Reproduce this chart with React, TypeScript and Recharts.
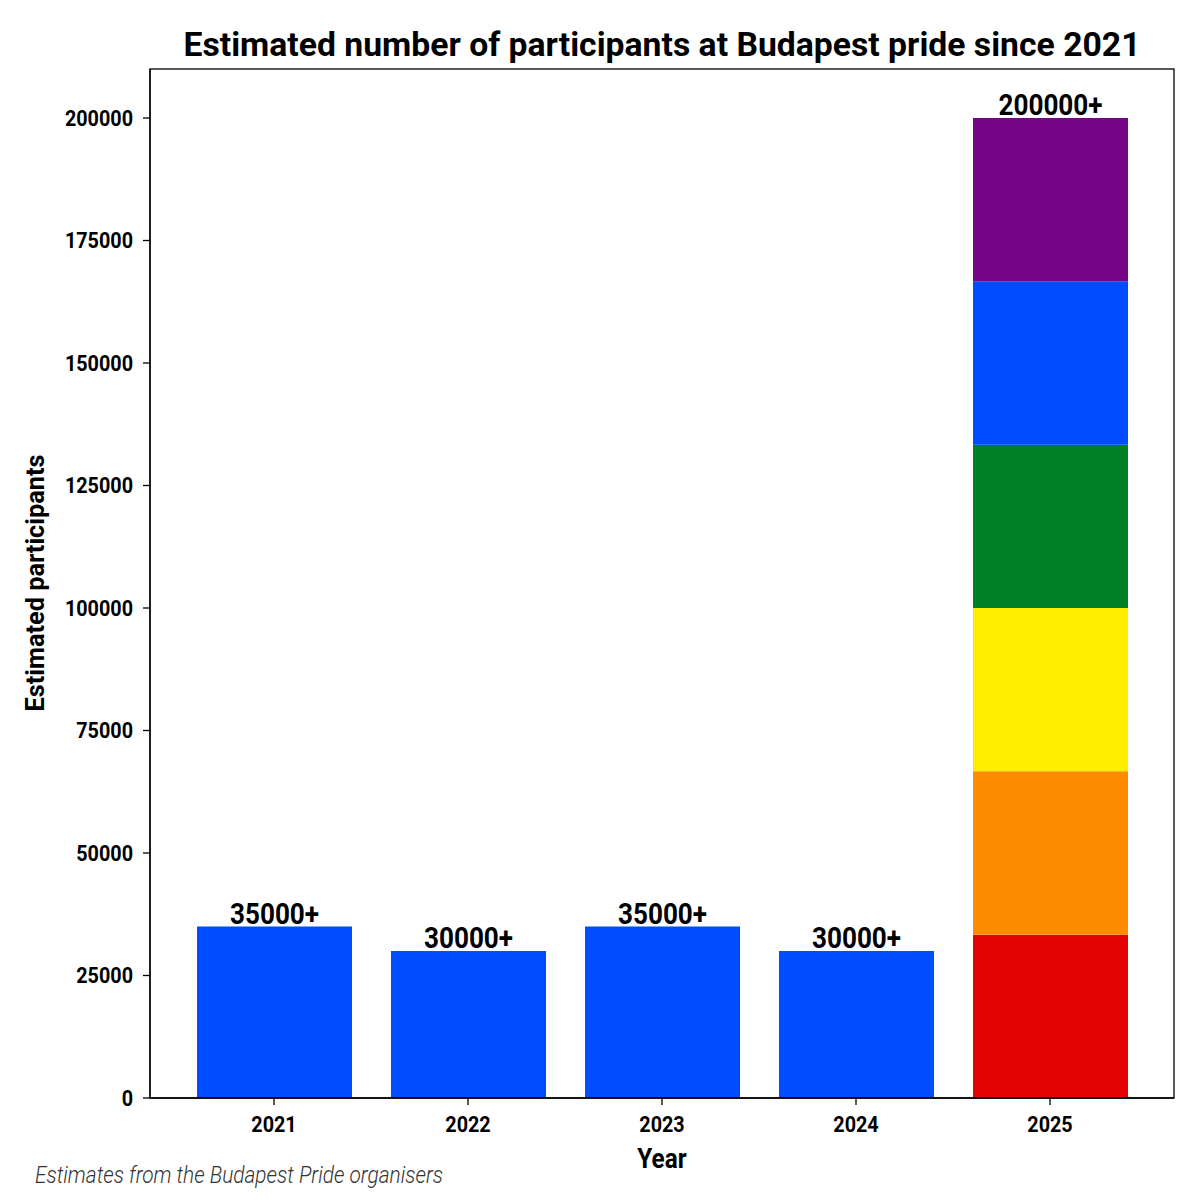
import { Bar, BarChart, LabelList, XAxis, YAxis } from "recharts"

const years = ["2021", "2022", "2023", "2024", "2025"]
const participants = [35000, 30000, 35000, 30000, 200000]
const barLabels = ["35000+", "30000+", "35000+", "30000+", "200000+"]
const yTicks = [0, 25000, 50000, 75000, 100000, 125000, 150000, 175000, 200000]

// the 2025 bar is drawn as six equal bands of the pride flag
const prideColors = ["#e40303", "#ff8c00", "#ffed00", "#008026", "#004dff", "#750787"]
const prideBands = [33333, 33333, 33334, 33333, 33333, 33334]

const BASE_BLUE = "#004dff"
const FONT = "Roboto, 'DejaVu Sans', sans-serif"
const SQUEEZE = 0.9

const data = years.map((year, i) => {
  const row: Record<string, number | string | null> = {
    year,
    label: barLabels[i],
    single: i < years.length - 1 ? participants[i] : null,
  }
  prideBands.forEach((v, k) => {
    row[`band${k}`] = i === years.length - 1 ? v : null
  })
  return row
})

const CondText = ({
  x,
  y,
  children,
  size,
  anchor = "middle",
  dy = "0",
}: {
  x: number
  y: number
  children: React.ReactNode
  size: number
  anchor?: "start" | "middle" | "end"
  dy?: string
}) => (
  <text
    transform={`translate(${x} ${y}) scale(${SQUEEZE} 1)`}
    textAnchor={anchor}
    dy={dy}
    fontFamily={FONT}
    fontWeight={700}
    fontSize={size}
    fill="#000"
  >
    {children}
  </text>
)

const YTick = (props: any) => (
  <CondText x={props.x} y={props.y} size={22} anchor="end" dy="0.36em">
    {props.payload.value}
  </CondText>
)

const XTick = (props: any) => (
  <CondText x={props.x} y={props.y} size={22} dy="0.72em">
    {props.payload.value}
  </CondText>
)

const BarTopLabel = (props: any) => {
  const { x, y, width, value } = props
  if (value == null || width == null) return null
  return (
    <CondText x={x + width / 2} y={y - 3} size={29}>
      {value}
    </CondText>
  )
}

const labelContent = (p: any) => (p.width && p.height ? <BarTopLabel {...p} /> : null)

export default function App() {
  return (
    <div style={{ position: "relative", width: 1200, height: 1200, margin: -8, background: "#fff" }}>
      <BarChart
        width={1200}
        height={1200}
        data={data}
        margin={{ top: 69, right: 26, bottom: 42, left: 0 }}
      >
        <XAxis
          dataKey="year"
          type="category"
          padding={{ left: 27, right: 27 }}
          height={60}
          tickSize={7}
          tickMargin={11}
          tick={XTick}
          tickLine={{ stroke: "#000", strokeWidth: 1.3 }}
          axisLine={{ stroke: "#000", strokeWidth: 1.3 }}
        />
        <YAxis
          type="number"
          domain={[0, 210000]}
          ticks={yTicks}
          width={150}
          tickSize={7}
          tickMargin={10}
          tick={YTick}
          interval={0}
          tickLine={{ stroke: "#000", strokeWidth: 1.3 }}
          axisLine={{ stroke: "#000", strokeWidth: 1.3 }}
        />
        <Bar dataKey="single" stackId="a" fill={BASE_BLUE} barSize={155} isAnimationActive={false}>
          <LabelList dataKey="label" content={labelContent} />
        </Bar>
        {prideColors.map((c, k) => (
          <Bar
            key={c}
            dataKey={`band${k}`}
            stackId="a"
            fill={c}
            barSize={155}
            isAnimationActive={false}
          >
            {k === prideColors.length - 1 && <LabelList dataKey="label" content={labelContent} />}
          </Bar>
        ))}
      </BarChart>
      <svg
        width={1200}
        height={1200}
        style={{ position: "absolute", left: 0, top: 0, pointerEvents: "none" }}
      >
        {/* matplotlib-style frame around the plot area */}
        <rect x={150} y={69} width={1024} height={1029} fill="none" stroke="#000" strokeWidth={1.3} />
        <text
          x={662}
          y={56}
          textAnchor="middle"
          fontFamily={FONT}
          fontWeight={700}
          fontSize={34}
          textLength={957}
          lengthAdjust="spacingAndGlyphs"
        >
          Estimated number of participants at Budapest pride since 2021
        </text>
        <CondText x={662} y={1168} size={27}>
          Year
        </CondText>
        <text
          x={0}
          y={0}
          transform="translate(44 583) rotate(-90)"
          textAnchor="middle"
          fontFamily={FONT}
          fontWeight={700}
          fontSize={26}
          textLength={257}
          lengthAdjust="spacingAndGlyphs"
        >
          Estimated participants
        </text>
        <text
          x={35}
          y={1183}
          fontFamily={FONT}
          fontStyle="italic"
          fontWeight={300}
          fontSize={23}
          fill="#333"
          textLength={408}
          lengthAdjust="spacingAndGlyphs"
        >
          Estimates from the Budapest Pride organisers
        </text>
      </svg>
    </div>
  )
}
